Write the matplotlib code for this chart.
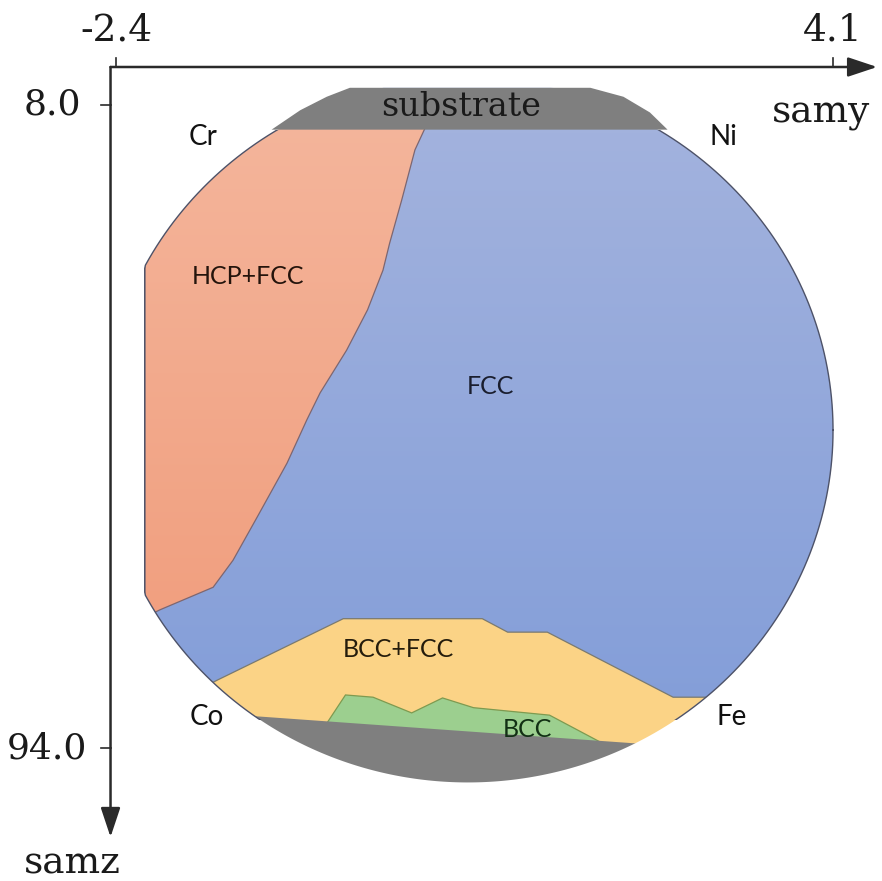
import numpy as np
import matplotlib
matplotlib.use('Agg')
import matplotlib.pyplot as plt
from matplotlib.patches import Polygon, PathPatch, Rectangle
from matplotlib.path import Path
from matplotlib.colors import LinearSegmentedColormap

# phase regions on the wafer, (samy, samz)
hcp_fcc_y = [-2.14, 0.42, 0.31, 0.19, 0.08, 0.02, -0.12, -0.31, -0.55, -0.67, -0.85, -1.12, -1.34, -1.52, -2.00, -2.14]
hcp_fcc_z = [10.5, 10.5, 14.0, 20.7, 26.5, 30.1, 35.4, 40.8, 46.5, 50.1, 55.9, 63.1, 68.9, 72.5, 75.5, 76.5]

bcc_fcc_y = [-1.73, -1.48, -0.34, 0.92, 1.15, 1.51, 2.65, 2.88, 3.44, 3.44, -1.73]
bcc_fcc_z = [86.8, 84.9, 76.7, 76.7, 78.5, 78.5, 87.2, 87.2, 87.2, 101.0, 101.0]

bcc_y = [-0.49, -0.32, -0.07, 0.28, 0.56, 0.84, 1.53, 1.99, 2.08, -0.55]
bcc_z = [90.7, 86.9, 87.2, 89.3, 87.3, 88.6, 89.6, 93.2, 95.6, 95.6]

sub_bot_y = [-1.37, 2.71, 2.71, -1.37]
sub_bot_z = [89.5, 93.8, 101.0, 101.0]

sub_top_y = [-0.99, -0.73, -0.49, -0.28, 1.90, 2.20, 2.44, 2.60]
sub_top_z = [11.3, 8.7, 6.9, 5.7, 5.7, 6.9, 9.0, 11.3]

# wafer outline
wafer_c = (0.79, 51.5)
wafer_w, wafer_h = 6.62, 94.2
flat_left = -2.14
flat_top = 5.7

labels = ['Cr', 'Ni', 'Co', 'Fe']
label_y = [-1.61, 3.11, -1.58, 3.18]
label_z = [12.3, 12.3, 89.9, 89.9]

phases = ['HCP+FCC', 'FCC', 'BCC+FCC', 'BCC']
phase_y = [-1.20, 0.99, 0.16, 1.33]
phase_z = [31.0, 45.7, 80.8, 91.5]
phase_col = ['#24140c', '#1a1e2e', '#241c0c', '#123014']

xlim = (-3.452, 4.544)
ylim = (111.78, -6.04)

fig = plt.figure(figsize=(8.82, 8.81), dpi=100)
ax = fig.add_axes([0, 0, 1, 1])
ax.set_xlim(xlim)
ax.set_ylim(ylim)
ax.axis('off')

grad = np.linspace(0, 1, 256).reshape(-1, 1)

# FCC background
cm_fcc = LinearSegmentedColormap.from_list('fcc', ['#a5b4de', '#7f9bd8'])
ax.imshow(grad, cmap=cm_fcc, aspect='auto', origin='upper',
          extent=(-2.3, 4.3, 101, 4), zorder=1)

# HCP+FCC with slight gradient
hcp = Polygon(np.column_stack([hcp_fcc_y, hcp_fcc_z]), closed=True,
              facecolor='none', edgecolor='#7d6670', lw=0.9, zorder=3)
ax.add_patch(hcp)
cm_hcp = LinearSegmentedColormap.from_list('hcp', ['#f4b59b', '#f19f7f'])
im = ax.imshow(grad, cmap=cm_hcp, aspect='auto', origin='upper',
               extent=(-2.3, 0.5, 78, 10), zorder=2)
im.set_clip_path(hcp)

ax.add_patch(Polygon(np.column_stack([bcc_fcc_y, bcc_fcc_z]), closed=True,
                     facecolor='#fbd386', edgecolor='#7a7a70', lw=0.9, zorder=4))
ax.add_patch(Polygon(np.column_stack([bcc_y, bcc_z]), closed=True,
                     facecolor='#9ccf8f', edgecolor='#7e9a50', lw=0.9, zorder=5))
ax.add_patch(Polygon(np.column_stack([sub_bot_y, sub_bot_z]), closed=True,
                     facecolor='#7f7f7f', edgecolor='none', zorder=6))

# white mask outside the wafer
t = np.linspace(0, 2 * np.pi, 600)
wy = np.maximum(wafer_c[0] + wafer_w / 2 * np.cos(t), flat_left)
wz = np.maximum(wafer_c[1] + wafer_h / 2 * np.sin(t), flat_top)
outer = [(xlim[0], ylim[1]), (xlim[1], ylim[1]), (xlim[1], ylim[0]),
         (xlim[0], ylim[0]), (xlim[0], ylim[1])]
inner = list(zip(wy[::-1], wz[::-1]))
verts = outer + inner + [inner[0]]
codes = ([Path.MOVETO] + [Path.LINETO] * 3 + [Path.CLOSEPOLY] +
         [Path.MOVETO] + [Path.LINETO] * (len(inner) - 1) + [Path.CLOSEPOLY])
ax.add_patch(PathPatch(Path(verts, codes), facecolor='white', edgecolor='none', zorder=7))

clip = Rectangle((xlim[0], 11.3), xlim[1] - xlim[0], 79, transform=ax.transData)
ln, = ax.plot(wy, wz, color='#4d5268', lw=1.0, zorder=8)
ln.set_clip_path(clip)

ax.add_patch(Polygon(np.column_stack([sub_top_y, sub_top_z]), closed=True,
                     facecolor='#7f7f7f', edgecolor='none', zorder=8))
ax.text(0.73, 8.3, 'substrate', family='DejaVu Serif', fontsize=24,
        ha='center', va='center', color='#1a1a1a', zorder=9)

for s, x, z in zip(labels, label_y, label_z):
    ax.text(x, z, s, family='Lato', fontsize=20, ha='center', va='center', color='#111111', zorder=9)
for s, x, z, c in zip(phases, phase_y, phase_z, phase_col):
    ax.text(x, z, s, family='Lato', fontsize=18, ha='center', va='center', color=c, zorder=9)

# axes arrows
axc = '#2a2a2a'
tc = '#1a1a1a'
ax.annotate('', xy=(4.50, 2.92), xytext=(-2.45, 2.92), zorder=10,
            arrowprops=dict(arrowstyle='-|>,head_length=0.9,head_width=0.3', color=axc,
                            lw=1.8, mutation_scale=20, shrinkA=0, shrinkB=0))
ax.annotate('', xy=(-2.45, 105.9), xytext=(-2.45, 2.92), zorder=10,
            arrowprops=dict(arrowstyle='-|>,head_length=0.9,head_width=0.3', color=axc,
                            lw=1.8, mutation_scale=20, shrinkA=0, shrinkB=0))
for v in [-2.4, 4.1]:
    ax.plot([v, v], [1.7, 2.92], color=axc, lw=1.2, zorder=10)
    ax.text(v, -2.0, '%.1f' % v, family='DejaVu Serif', fontsize=27,
            ha='center', va='center', color=tc, zorder=10)
for v, xr in zip([8.0, 94.0], [-2.72, -2.66]):
    ax.plot([-2.54, -2.45], [v, v], color=axc, lw=1.2, zorder=10)
    ax.text(xr, v, '%.1f' % v, family='DejaVu Serif', fontsize=26,
            ha='right', va='center', color=tc, zorder=10)
ax.text(3.99, 9.1, 'samy', family='DejaVu Serif', fontsize=27, ha='center', va='center', color=tc, zorder=10)
ax.text(-2.80, 109.4, 'samz', family='DejaVu Serif', fontsize=27, ha='center', va='center', color=tc, zorder=10)

fig.savefig('out.png', dpi=100, facecolor='white')
